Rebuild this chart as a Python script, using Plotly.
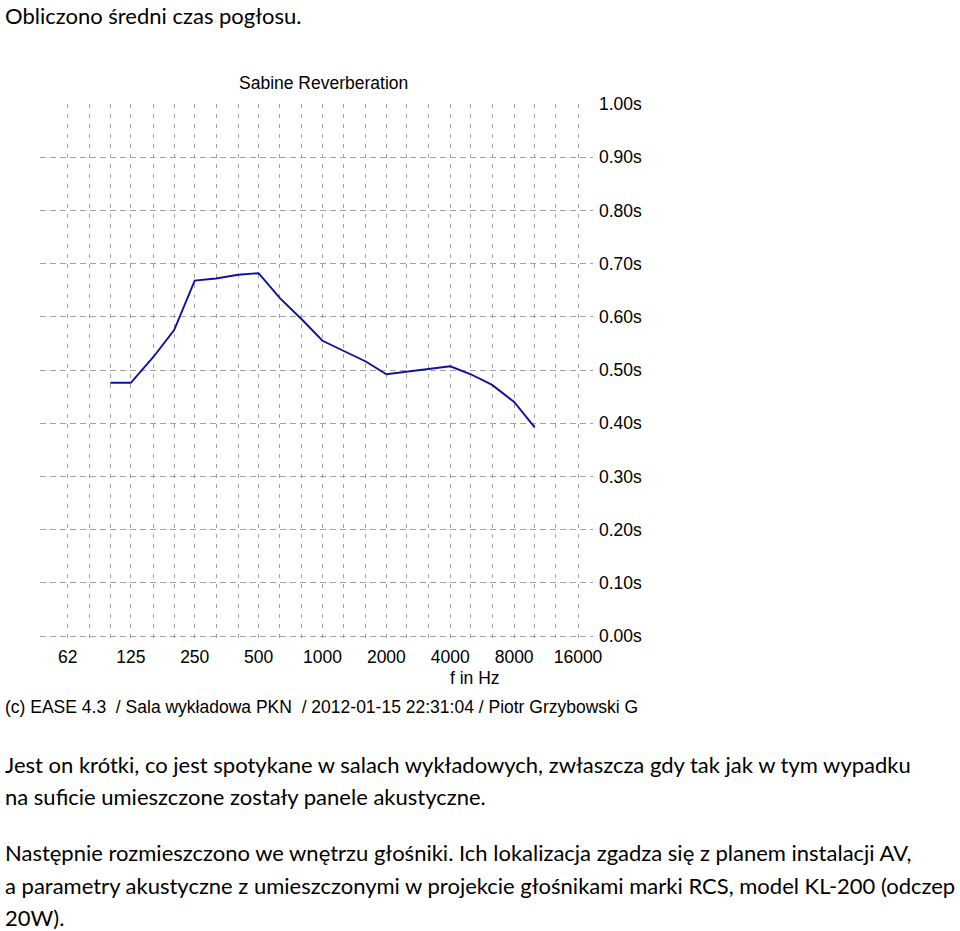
import plotly.graph_objects as go

# ---------------- data ----------------
freq_hz = [100, 125, 160, 200, 250, 315, 400, 500, 630, 800, 1000,
           1250, 1600, 2000, 2500, 3150, 4000, 5000, 6300, 8000, 10000]
rt_sabine_s = [0.476, 0.476, 0.525, 0.575, 0.668, 0.672, 0.679, 0.682, 0.635, 0.595, 0.555,
               0.536, 0.516, 0.492, 0.497, 0.503, 0.507, 0.492, 0.472, 0.440, 0.392]

grid_freqs = [63, 80, 100, 125, 160, 200, 250, 315, 400, 500, 630, 800, 1000, 1250,
              1600, 2000, 2500, 3150, 4000, 5000, 6300, 8000, 10000, 12500, 16000]
grid_labels = ["62", "", "", "125", "", "", "250", "", "", "500", "", "", "1000", "",
               "", "2000", "", "", "4000", "", "", "8000", "", "", "16000"]

y_ticks = [0.0, 0.1, 0.2, 0.3, 0.4, 0.5, 0.6, 0.7, 0.8, 0.9, 1.0]

title_text = "Sabine Reverberation"
x_title = "f in Hz"
footer = "(c) EASE 4.3  / Sala wykładowa PKN  / 2012-01-15 22:31:04 / Piotr Grzybowski G"
top_line = "Obliczono średni czas pogłosu."
body_lines = [
    "Jest on krótki, co jest spotykane w salach wykładowych, zwłaszcza gdy tak jak w tym wypadku",
    "na suficie umieszczone zostały panele akustyczne.",
    "Następnie rozmieszczono we wnętrzu głośniki. Ich lokalizacja zgadza się z planem instalacji AV,",
    "a parametry akustyczne z umieszczonymi w projekcie głośnikami marki RCS, model KL-200 (odczep",
    "20W).",
]

# ---------------- layout geometry ----------------
W, H = 960, 931
L, R, T, B = 40, 367, 104, 287
PW, PH = W - L - R, H - T - B


def px_x(px):
    return (px - L) / PW


def px_y(py):
    return (H - B - py) / PH


chart_font = "Liberation Sans, Arial, sans-serif"
body_font = "Lato, Carlito, Calibri, sans-serif"
grid_col = "#a2a2a2"
cfs = 17.5

fig = go.Figure()
fig.add_trace(go.Scatter(
    x=freq_hz, y=rt_sabine_s, mode="lines",
    line=dict(color="#1010a0", width=1.9),
    hoverinfo="x+y", showlegend=False,
))

fig.update_layout(
    width=W, height=H,
    margin=dict(l=L, r=R, t=T, b=B, pad=0),
    paper_bgcolor="white", plot_bgcolor="white",
    font=dict(family=chart_font, color="black", size=cfs),
    xaxis=dict(
        type="log",
        range=[1.6689, 4.2747],
        tickmode="array", tickvals=grid_freqs, ticktext=grid_labels,
        showgrid=True, gridcolor=grid_col, griddash="4px,6px", gridwidth=1,
        zeroline=False, showline=False, ticks="",
        tickfont=dict(family=chart_font, size=cfs, color="black"),
        fixedrange=True,
    ),
    yaxis=dict(
        range=[-0.015, 1.0],
        side="right",
        tickmode="array", tickvals=y_ticks,
        ticktext=[f"{v:.2f}s" for v in y_ticks],
        showgrid=True, gridcolor=grid_col, griddash="6px,4px", gridwidth=1,
        zeroline=False, showline=False, ticks="",
        ticklabelstandoff=5,
        tickfont=dict(family=chart_font, size=cfs, color="black"),
        fixedrange=True,
    ),
)

ann = []
ann.append(dict(text=title_text, x=px_x(323), y=px_y(83), xanchor="center", yanchor="middle",
                font=dict(family=chart_font, size=cfs, color="black")))
ann.append(dict(text=x_title, x=px_x(475), y=px_y(678), xanchor="center", yanchor="middle",
                font=dict(family=chart_font, size=cfs, color="black")))
ann.append(dict(text=footer, x=px_x(3), y=px_y(707), xanchor="left", yanchor="middle",
                font=dict(family=chart_font, size=cfs, color="black")))
ann.append(dict(text=top_line, x=px_x(3), y=px_y(15), xanchor="left", yanchor="middle",
                font=dict(family=body_font, size=22, color="black")))
body_y = [764, 797, 852, 885, 917]
for txt, yy in zip(body_lines, body_y):
    ann.append(dict(text=txt, x=px_x(3), y=px_y(yy), xanchor="left", yanchor="middle",
                    font=dict(family=body_font, size=22, color="black")))
for a in ann:
    a.update(xref="paper", yref="paper", showarrow=False)
fig.update_layout(annotations=ann)

fig.write_html("out.html")
